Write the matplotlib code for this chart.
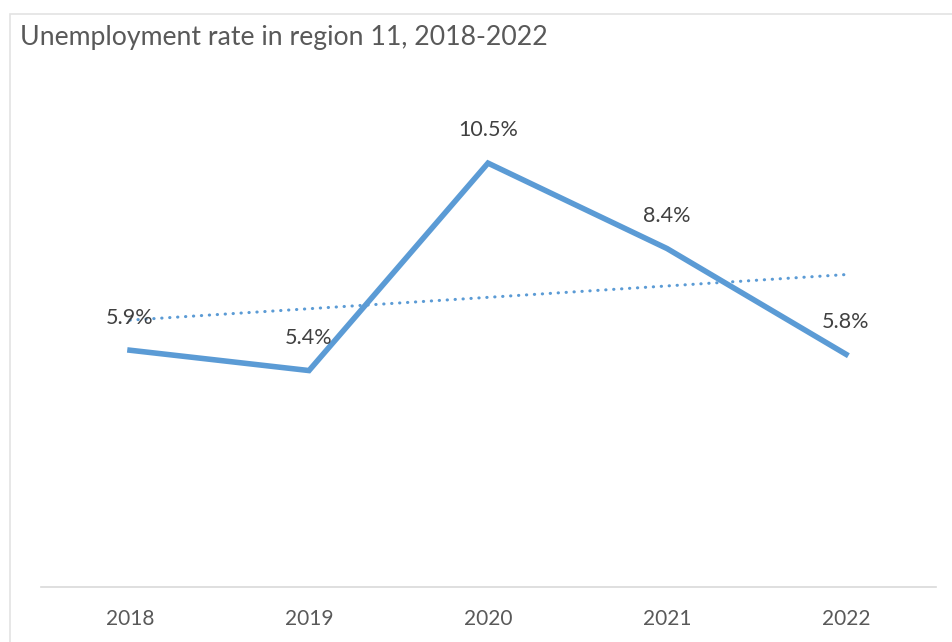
import matplotlib
matplotlib.use("Agg")
import matplotlib.pyplot as plt
import numpy as np
from matplotlib.patches import Rectangle

years = ["2018", "2019", "2020", "2021", "2022"]
rates = [5.9, 5.4, 10.5, 8.4, 5.8]
title = "Unemployment rate in region 11, 2018-2022"

plt.rcParams['font.family'] = ['Lato', 'DejaVu Sans']
W, H = 952, 642
fig = plt.figure(figsize=(W / 100, H / 100), dpi=100)
fig.patch.set_facecolor("white")

# chart border
fig.patches.append(Rectangle((10 / W, -0.1), 1.2, 1 - 14 / H + 0.1, transform=fig.transFigure,
                             fill=False, edgecolor="#E3E3E3", linewidth=1.2))

left, right = 40.5 / W, 935.5 / W
bottom, top = 1 - 586.7 / H, 1 - 96 / H
ax = fig.add_axes([left, bottom, right - left, top - bottom])
x = np.arange(len(years))
color = "#5B9BD5"
ax.plot(x, rates, color=color, linewidth=4.0, solid_joinstyle="miter", zorder=3)

slope, intercept = np.polyfit(x, rates, 1)
ax.plot(x, slope * x + intercept, color=color, linewidth=2.2,
        linestyle=(0, (0.1, 2.5)), dash_capstyle="round", zorder=2)

for xi, v in zip(x, rates):
    ax.annotate(f"{v:.1f}%", (xi, v), xytext=(0, 23.5), textcoords="offset points",
                ha="center", va="center", fontsize=15.5, color="#404040", zorder=4)

ax.set_xlim(-0.5, len(years) - 0.5)
ax.set_ylim(0.086, 12.15)
ax.set_xticks(x)
ax.set_xticklabels(years, fontsize=15, color="#595959")
ax.tick_params(axis="x", length=0, pad=16)
ax.set_yticks([])
for s in ["left", "right", "top"]:
    ax.spines[s].set_visible(False)
ax.spines["bottom"].set_color("#D9D9D9")
ax.spines["bottom"].set_linewidth(1.2)

fig.text(20 / W, 1 - 38 / H, title, fontsize=19.2, color="#595959", ha="left", va="center")

fig.savefig("out.png", dpi=100)
